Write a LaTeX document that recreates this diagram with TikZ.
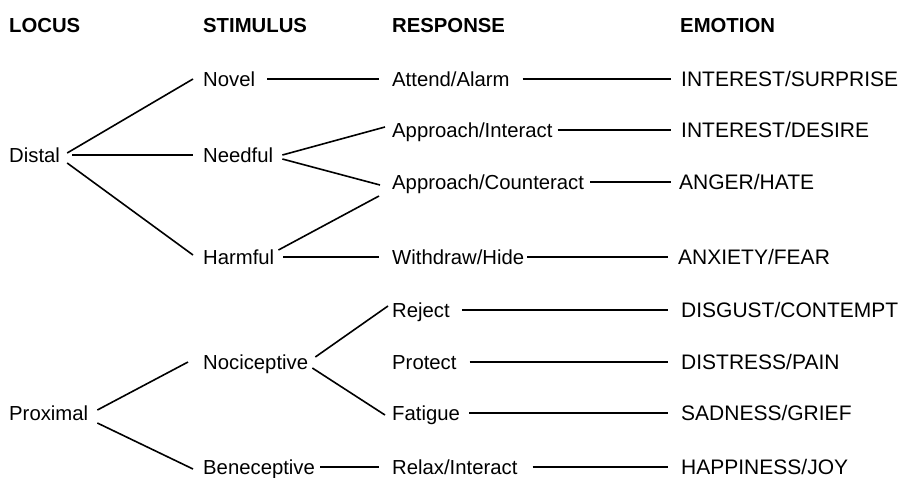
\documentclass[tikz,border=0pt]{standalone}
\usepackage{fontspec}
\setmainfont{Liberation Sans}
\begin{document}
\begin{tikzpicture}[x=1pt,y=-1pt,
  lbl/.style={anchor=west,inner sep=0pt,text height=14.5pt,text depth=0pt,font=\fontsize{20.3}{24}\selectfont},
  emo/.style={lbl,text height=15pt,font=\fontsize{21}{25}\selectfont},
  hdr/.style={lbl,font=\fontsize{20.3}{24}\selectfont\bfseries},
  conn/.style={line width=1.9pt},
  diag/.style={line width=1.6pt}]
\fill[white] (0,0) rectangle (904,477);
\useasboundingbox (0,0) rectangle (904,477);
% headers
\node[hdr] (hlocus) at (9,25) {LOCUS};
\node[hdr] (hstim) at (203,25) {STIMULUS};
\node[hdr] (hresp) at (392,25) {RESPONSE};
\node[hdr] (hemo) at (680,25) {EMOTION};
% locus
\node[lbl] (distal) at (9,155) {Distal};
\node[lbl] (proximal) at (9,413) {Proximal};
% stimulus
\node[lbl] (novel) at (203,79) {Novel};
\node[lbl] (needful) at (203,155) {Needful};
\node[lbl] (harmful) at (203,257) {Harmful};
\node[lbl] (noci) at (203,362) {Nociceptive};
\node[lbl] (bene) at (203,467) {Beneceptive};
% response
\node[lbl] (attend) at (392,79) {Attend/Alarm};
\node[lbl] (appint) at (392,130) {Approach/Interact};
\node[lbl] (appcnt) at (392,182) {Approach/Counteract};
\node[lbl] (withdraw) at (392,257) {Withdraw/Hide};
\node[lbl] (reject) at (392,310) {Reject};
\node[lbl] (protect) at (392,362) {Protect};
\node[lbl] (fatigue) at (392,413) {Fatigue};
\node[lbl] (relax) at (392,467) {Relax/Interact};
% emotion
\node[emo] (e1) at (681,79) {INTEREST/SURPRISE};
\node[emo] (e2) at (681,130) {INTEREST/DESIRE};
\node[emo] (e3) at (679,182) {ANGER/HATE};
\node[emo] (e4) at (678,257) {ANXIETY/FEAR};
\node[emo] (e5) at (681,310) {DISGUST/CONTEMPT};
\node[emo] (e6) at (681,362) {DISTRESS/PAIN};
\node[emo] (e7) at (681,413) {SADNESS/GRIEF};
\node[emo] (e8) at (681,467) {HAPPINESS/JOY};
% locus -> stimulus
\draw[diag] ([shift={(7,-2)}]distal.east) -- ([shift={(-10,0)}]novel.west);
\draw[conn] ([xshift=12]distal.east) -- ([xshift=-10]needful.west);
\draw[diag] ([shift={(7,8)}]distal.east) -- ([shift={(-10,-2)}]harmful.west);
\draw[diag] ([shift={(9,-3)}]proximal.east) -- ([shift={(-15,0)}]noci.west);
\draw[diag] ([shift={(9,10)}]proximal.east) -- ([shift={(-10,2)}]bene.west);
% stimulus -> response
\draw[conn] ([xshift=12]novel.east) -- ([xshift=-13]attend.west);
\draw[diag] ([xshift=9]needful.east) -- ([shift={(-7,-3)}]appint.west);
\draw[diag] ([shift={(9,4)}]needful.east) -- ([shift={(-12,3)}]appcnt.west);
\draw[diag] ([shift={(4,-7)}]harmful.east) -- ([shift={(-13,14)}]appcnt.west);
\draw[conn] ([xshift=9]harmful.east) -- ([xshift=-13]withdraw.west);
\draw[diag] ([shift={(7,-5)}]noci.east) -- ([shift={(-4,-4)}]reject.west);
\draw[diag] ([shift={(4,6)}]noci.east) -- ([shift={(-7,2)}]fatigue.west);
\draw[conn] ([xshift=5]bene.east) -- ([xshift=-13]relax.west);
% response -> emotion
\draw[conn] ([xshift=13]attend.east) -- ([xshift=-10]e1.west);
\draw[conn] ([xshift=5]appint.east) -- ([xshift=-10]e2.west);
\draw[conn] ([xshift=6]appcnt.east) -- ([xshift=-8]e3.west);
\draw[conn] ([xshift=3]withdraw.east) -- ([xshift=-10]e4.west);
\draw[conn] ([xshift=12]reject.east) -- ([xshift=-13]e5.west);
\draw[conn] ([xshift=13]protect.east) -- ([xshift=-13]e6.west);
\draw[conn] ([xshift=9]fatigue.east) -- ([xshift=-13]e7.west);
\draw[conn] ([xshift=15]relax.east) -- ([xshift=-13]e8.west);
\end{tikzpicture}
\end{document}
